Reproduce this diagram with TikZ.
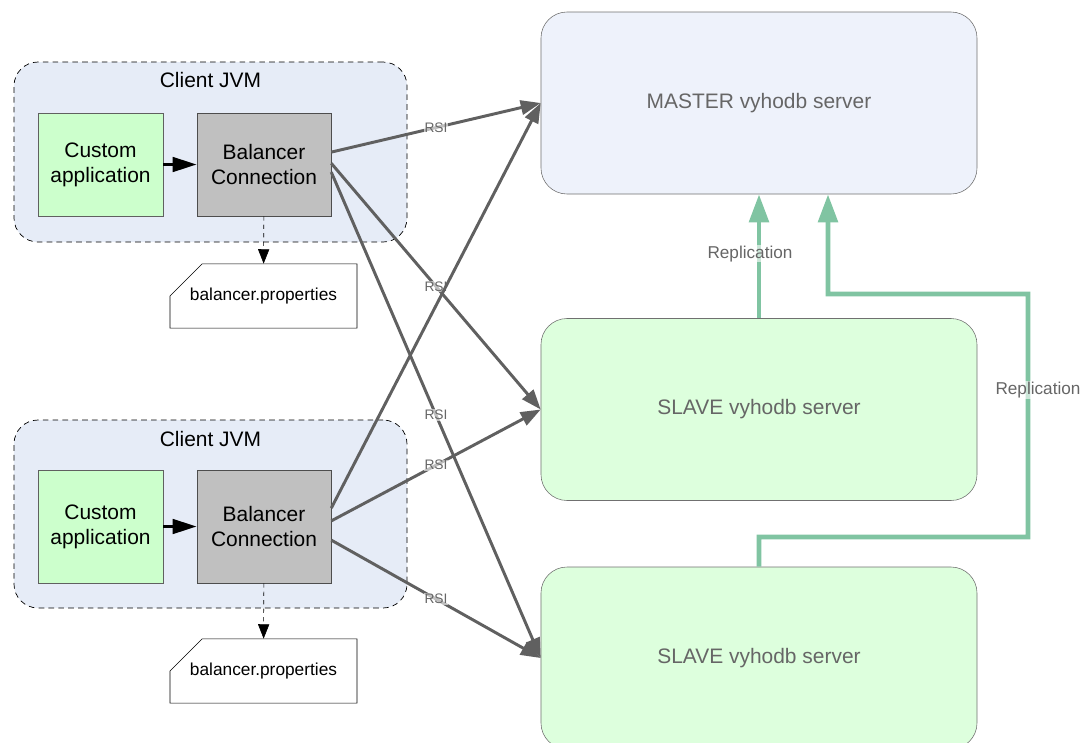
\documentclass[tikz,border=0pt]{standalone}
\usepackage{fontspec}
\setmainfont{Liberation Sans}
\usetikzlibrary{shapes.misc,arrows.meta,positioning}
\definecolor{jvmfill}{HTML}{E6ECF7}
\definecolor{appfill}{HTML}{CCFFCC}
\definecolor{balfill}{HTML}{C0C0C0}
\definecolor{masterfill}{HTML}{EEF2FB}
\definecolor{slavefill}{HTML}{DDFFDD}
\definecolor{linegray}{HTML}{606060}
\definecolor{txtgray}{HTML}{666666}
\definecolor{replgreen}{HTML}{80C4A2}

\begin{document}
\begin{tikzpicture}[x=0.25mm,y=-0.25mm,
  big/.style = {font=\fontsize{14.9}{17.8}\selectfont},
  jvm/.style = {draw=black, line width=0.5pt, dash pattern=on 4pt off 3pt, fill=jvmfill, rounded corners=6mm, minimum width=98.25mm, minimum height=#1},
  app/.style = {draw=linegray, fill=appfill, big, align=center, minimum width=31.25mm, minimum height=#1},
  bal/.style = {draw=linegray!80!black, fill=balfill, big, align=center, minimum width=33.5mm, minimum height=#1},
  props/.style = {draw, chamfered rectangle, chamfered rectangle corners=north west, chamfered rectangle sep=6mm, inner sep=0pt, minimum width=46.75mm, minimum height=15mm, font=\fontsize{12.3}{14}\selectfont},
  server/.style = {draw=linegray!90, fill=#1, rounded corners=6.5mm, minimum width=109mm, minimum height=45.5mm, big, text=txtgray},
  rsi/.style = {draw=linegray, line width=2.1pt, -{Triangle[length=5mm,width=3.6mm]}},
  rsilabel/.style = {font=\fontsize{9.8}{11}\selectfont, text=txtgray, fill=white, fill opacity=0.6, text opacity=1, inner sep=0.5pt},
  repl/.style = {draw=replgreen, line width=3.5pt, -{Triangle[length=7mm,width=4.8mm]}},
  repllabel/.style = {font=\fontsize{12.2}{14}\selectfont, text=txtgray, fill=white, fill opacity=0.6, text opacity=1, inner sep=0.5pt},
  ]
\useasboundingbox (0,0) rectangle (1089,742);
%Client JVMs
\node (jvmA) at (210.5,152)[jvm=45mm] {};
\node at (210.5,80)[big] {Client JVM};
\node (appA) at (100.5,164.5)[app=25.75mm] {Custom\\application};
\node (balA) at (264,164.5)[bal=25.75mm] {Balancer\\Connection};
\node (propA) at (263.5,296)[props] {balancer.properties};
\node (jvmB) at (210.5,514)[jvm=47mm] {};
\node at (210.5,439)[big] {Client JVM};
\node (appB) at (100.5,526.5)[app=28.25mm] {Custom\\application};
\node (balB) at (264,526.5)[bal=28.25mm] {Balancer\\Connection};
\node (propB) at (263.5,671)[props] {balancer.properties};
%Servers
\node (master) at (759,103)[server=masterfill] {MASTER vyhodb server};
\node (slaveA) at (759,409.5)[server=slavefill] {SLAVE vyhodb server};
\node (slaveB) at (759,658)[server=slavefill] {SLAVE vyhodb server};
%Inside the JVMs
\draw[line width=2.4pt,-{Triangle[length=6mm,width=3.6mm]}] (appA) -- (balA);
\draw[line width=2.4pt,-{Triangle[length=6mm,width=3.6mm]}] (appB) -- (balB);
\draw[dashed,-{Triangle[length=3.6mm,width=2.8mm]}] (balA) -- (propA);
\draw[dashed,-{Triangle[length=3.6mm,width=2.8mm]}] (balB) -- (propB);
%RSI connections
\draw[rsi] ([yshift=3.1mm]balA.east) -- node[rsilabel] {RSI} (master.west);
\draw[rsi] ([yshift=0.3mm]balA.east) -- node[rsilabel] {RSI} (slaveA.west);
\draw[rsi] ([yshift=-1.9mm]balA.east) -- node[rsilabel] {RSI} (slaveB.west);
\draw[rsi] ([yshift=4.6mm]balB.east) -- (master.west);
\draw[rsi] ([yshift=1.4mm]balB.east) -- node[rsilabel] {RSI} (slaveA.west);
\draw[rsi] ([yshift=-3.4mm]balB.east) -- node[rsilabel] {RSI} (slaveB.west);
%Replication
\draw[repl] (slaveA.north) -- node[repllabel,pos=0.52,xshift=-2.25mm] {Replication} (master.south);
\draw[repl] (slaveB.north) |- (1028,537) |- (828,294) -- ([xshift=17.25mm]master.south);
\node at (1038,390)[repllabel] {Replication};
\end{tikzpicture}
\end{document}
